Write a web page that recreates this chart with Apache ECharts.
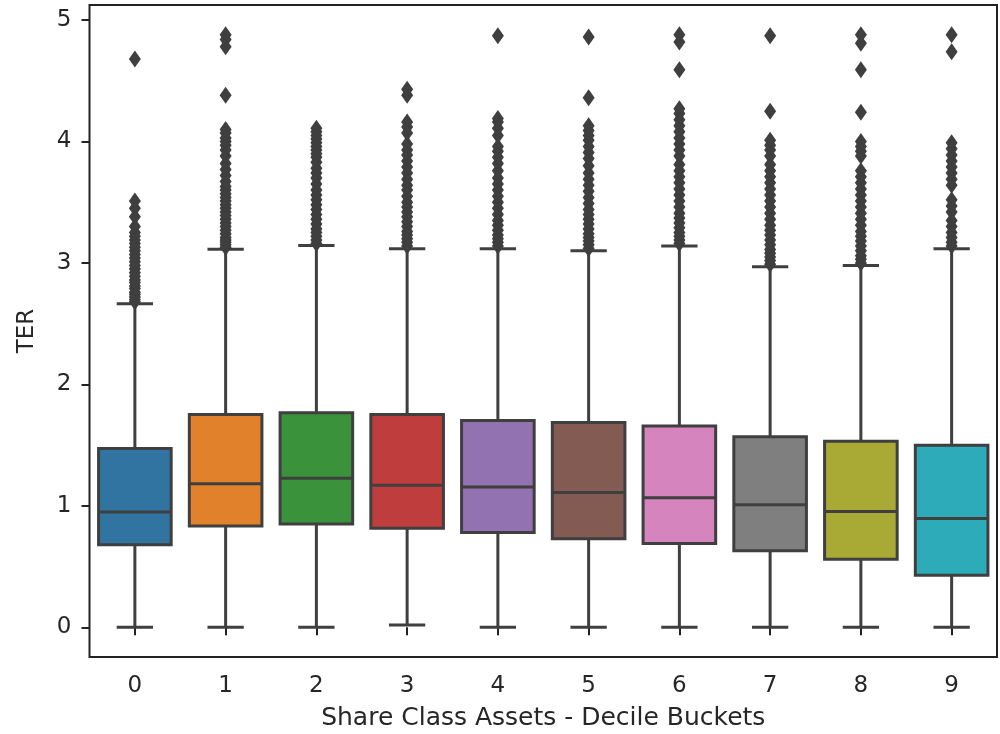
<!DOCTYPE html>
<html>
<head>
<meta charset="utf-8">
<script src="https://cdn.jsdelivr.net/npm/echarts@6/dist/echarts.min.js"></script>
<style>
  html, body { margin: 0; padding: 0; background: #fff; }
  #chart { width: 1000px; height: 734px; }
</style>
</head>
<body>
<div id="chart"></div>
<script>
// Decile buckets of share class assets
const buckets = ['0', '1', '2', '3', '4', '5', '6', '7', '8', '9'];

// Box statistics per bucket (TER)
const whiskerLow  = [0.00, 0.00, 0.00, 0.02, 0.00, 0.00, 0.00, 0.00, 0.00, 0.00];
const quartile1   = [0.68, 0.835, 0.85, 0.815, 0.78, 0.73, 0.69, 0.63, 0.56, 0.43];
const medians     = [0.95, 1.183, 1.227, 1.17, 1.155, 1.11, 1.068, 1.01, 0.953, 0.896];
const quartile3   = [1.473, 1.753, 1.767, 1.753, 1.703, 1.687, 1.657, 1.569, 1.533, 1.50];
const whiskerHigh = [2.665, 3.114, 3.144, 3.117, 3.117, 3.10, 3.14, 2.97, 2.98, 3.117];

// Outliers beyond the whiskers, one list per bucket
const fliers0 = [2.68, 2.70, 2.72, 2.74, 2.76, 2.79, 2.81, 2.84, 2.86, 2.89, 2.92, 2.95, 2.98, 3.01, 3.04, 3.07, 3.10, 3.13, 3.16, 3.19, 3.22, 3.25, 3.30, 3.38, 3.45, 3.51, 4.68];
const fliers1 = [3.13, 3.15, 3.17, 3.19, 3.21, 3.24, 3.27, 3.30, 3.33, 3.36, 3.39, 3.42, 3.45, 3.48, 3.51, 3.54, 3.57, 3.60, 3.63, 3.67, 3.72, 3.77, 3.82, 3.88, 3.93, 3.97, 4.00, 4.03, 4.07, 4.10, 4.38, 4.78, 4.84, 4.88];
const fliers2 = [3.16, 3.19, 3.22, 3.25, 3.28, 3.32, 3.36, 3.40, 3.44, 3.48, 3.52, 3.56, 3.60, 3.65, 3.70, 3.74, 3.78, 3.83, 3.87, 3.90, 3.93, 3.96, 3.99, 4.02, 4.05, 4.08, 4.11];
const fliers3 = [3.14, 3.17, 3.20, 3.23, 3.26, 3.30, 3.34, 3.38, 3.42, 3.46, 3.50, 3.55, 3.60, 3.64, 3.69, 3.74, 3.79, 3.84, 3.89, 3.93, 3.98, 4.07, 4.12, 4.16, 4.38, 4.43];
const fliers4 = [3.14, 3.17, 3.20, 3.23, 3.27, 3.31, 3.35, 3.40, 3.45, 3.50, 3.55, 3.60, 3.65, 3.70, 3.76, 3.82, 3.87, 3.92, 3.96, 4.05, 4.11, 4.16, 4.19, 4.87];
const fliers5 = [3.12, 3.15, 3.18, 3.21, 3.24, 3.28, 3.32, 3.36, 3.40, 3.44, 3.49, 3.54, 3.59, 3.64, 3.69, 3.74, 3.80, 3.86, 3.91, 3.96, 4.01, 4.05, 4.09, 4.13, 4.36, 4.86];
const fliers6 = [3.16, 3.19, 3.22, 3.25, 3.29, 3.33, 3.37, 3.41, 3.46, 3.51, 3.56, 3.61, 3.66, 3.71, 3.76, 3.81, 3.88, 3.93, 3.98, 4.03, 4.08, 4.13, 4.18, 4.23, 4.27, 4.59, 4.82, 4.88];
const fliers7 = [2.99, 3.02, 3.05, 3.08, 3.11, 3.15, 3.19, 3.23, 3.27, 3.31, 3.36, 3.41, 3.46, 3.51, 3.56, 3.61, 3.66, 3.71, 3.76, 3.81, 3.88, 3.93, 3.97, 4.01, 4.25, 4.87];
const fliers8 = [3.00, 3.03, 3.06, 3.10, 3.14, 3.18, 3.22, 3.26, 3.31, 3.36, 3.41, 3.46, 3.51, 3.56, 3.61, 3.66, 3.71, 3.76, 3.88, 3.92, 3.96, 4.00, 4.24, 4.59, 4.81, 4.88];
const fliers9 = [3.14, 3.17, 3.21, 3.25, 3.30, 3.35, 3.42, 3.47, 3.52, 3.64, 3.69, 3.74, 3.79, 3.84, 3.89, 3.94, 3.99, 4.74, 4.88];

const yTicks = [0, 1, 2, 3, 4, 5];

const boxColors = ['#3274a1', '#e1812c', '#3a923a', '#c03d3e', '#9372b2',
                   '#845b53', '#d684bd', '#7f7f7f', '#a9aa35', '#2eabb8'];
const lineColor = '#3f3f3f';
const textColor = '#262626';
const fontFamily = '"DejaVu Sans", sans-serif';

const boxRows = buckets.map((_, i) =>
  [i, whiskerLow[i], quartile1[i], medians[i], quartile3[i], whiskerHigh[i]]);

const flierLists = [fliers0, fliers1, fliers2, fliers3, fliers4,
                    fliers5, fliers6, fliers7, fliers8, fliers9];
const flierPoints = [];
flierLists.forEach((list, i) => list.forEach(v => flierPoints.push([i, v])));

function renderBox(params, api) {
  const i = api.value(0);
  const lo = api.coord([i, api.value(1)]);
  const q1 = api.coord([i, api.value(2)]);
  const md = api.coord([i, api.value(3)]);
  const q3 = api.coord([i, api.value(4)]);
  const hi = api.coord([i, api.value(5)]);
  const band = api.size([1, 0])[0];
  const bw = band * 0.8;
  const cw = bw * 0.5;
  const cx = lo[0];
  const lineStyle = { stroke: lineColor, lineWidth: 3, fill: null };
  return {
    type: 'group',
    children: [
      { type: 'line', shape: { x1: cx, y1: q1[1], x2: cx, y2: lo[1] }, style: lineStyle },
      { type: 'line', shape: { x1: cx, y1: q3[1], x2: cx, y2: hi[1] }, style: lineStyle },
      { type: 'line', shape: { x1: cx - cw / 2, y1: lo[1], x2: cx + cw / 2, y2: lo[1] }, style: lineStyle },
      { type: 'line', shape: { x1: cx - cw / 2, y1: hi[1], x2: cx + cw / 2, y2: hi[1] }, style: lineStyle },
      { type: 'rect', shape: { x: cx - bw / 2, y: q3[1], width: bw, height: q1[1] - q3[1] },
        style: { fill: boxColors[i], stroke: lineColor, lineWidth: 3 } },
      { type: 'line', shape: { x1: cx - bw / 2, y1: md[1], x2: cx + bw / 2, y2: md[1] }, style: lineStyle }
    ]
  };
}

const chart = echarts.init(document.getElementById('chart'), null, { renderer: 'canvas' });
chart.setOption({
  animation: false,
  backgroundColor: '#ffffff',
  grid: {
    left: 89.5, right: 3, top: 5, bottom: 77,
    containLabel: false,
    outerBoundsMode: 'none',
    show: true, borderColor: '#222222', borderWidth: 2, backgroundColor: 'transparent'
  },
  xAxis: {
    type: 'category',
    data: buckets,
    boundaryGap: true,
    name: 'Share Class Assets - Decile Buckets',
    nameLocation: 'middle',
    nameGap: 49,
    nameTextStyle: { color: textColor, fontSize: 25, fontFamily: fontFamily },
    axisLine: { show: false },
    axisTick: { show: true, alignWithLabel: true, length: 8, lineStyle: { color: '#222', width: 2 } },
    axisLabel: { color: textColor, fontSize: 23, fontFamily: fontFamily, margin: 18 },
    splitLine: { show: false }
  },
  yAxis: {
    type: 'value',
    min: -0.244,
    max: 5.124,
    name: 'TER',
    nameLocation: 'middle',
    nameGap: 51,
    nameRotate: 90,
    nameTextStyle: { color: textColor, fontSize: 23, fontFamily: fontFamily },
    axisLine: { show: false },
    axisTick: { show: true, length: 8, customValues: yTicks, lineStyle: { color: '#222', width: 2 } },
    axisLabel: { color: textColor, fontSize: 23, fontFamily: fontFamily, margin: 18, customValues: yTicks },
    splitLine: { show: false }
  },
  series: [
    {
      type: 'custom',
      renderItem: renderBox,
      encode: { x: 0, y: [1, 2, 3, 4, 5] },
      data: boxRows,
      z: 2
    },
    {
      type: 'scatter',
      data: flierPoints,
      symbol: 'diamond',
      symbolSize: [12, 17],
      itemStyle: { color: lineColor, opacity: 1 },
      z: 3
    }
  ]
});
</script>
</body>
</html>
